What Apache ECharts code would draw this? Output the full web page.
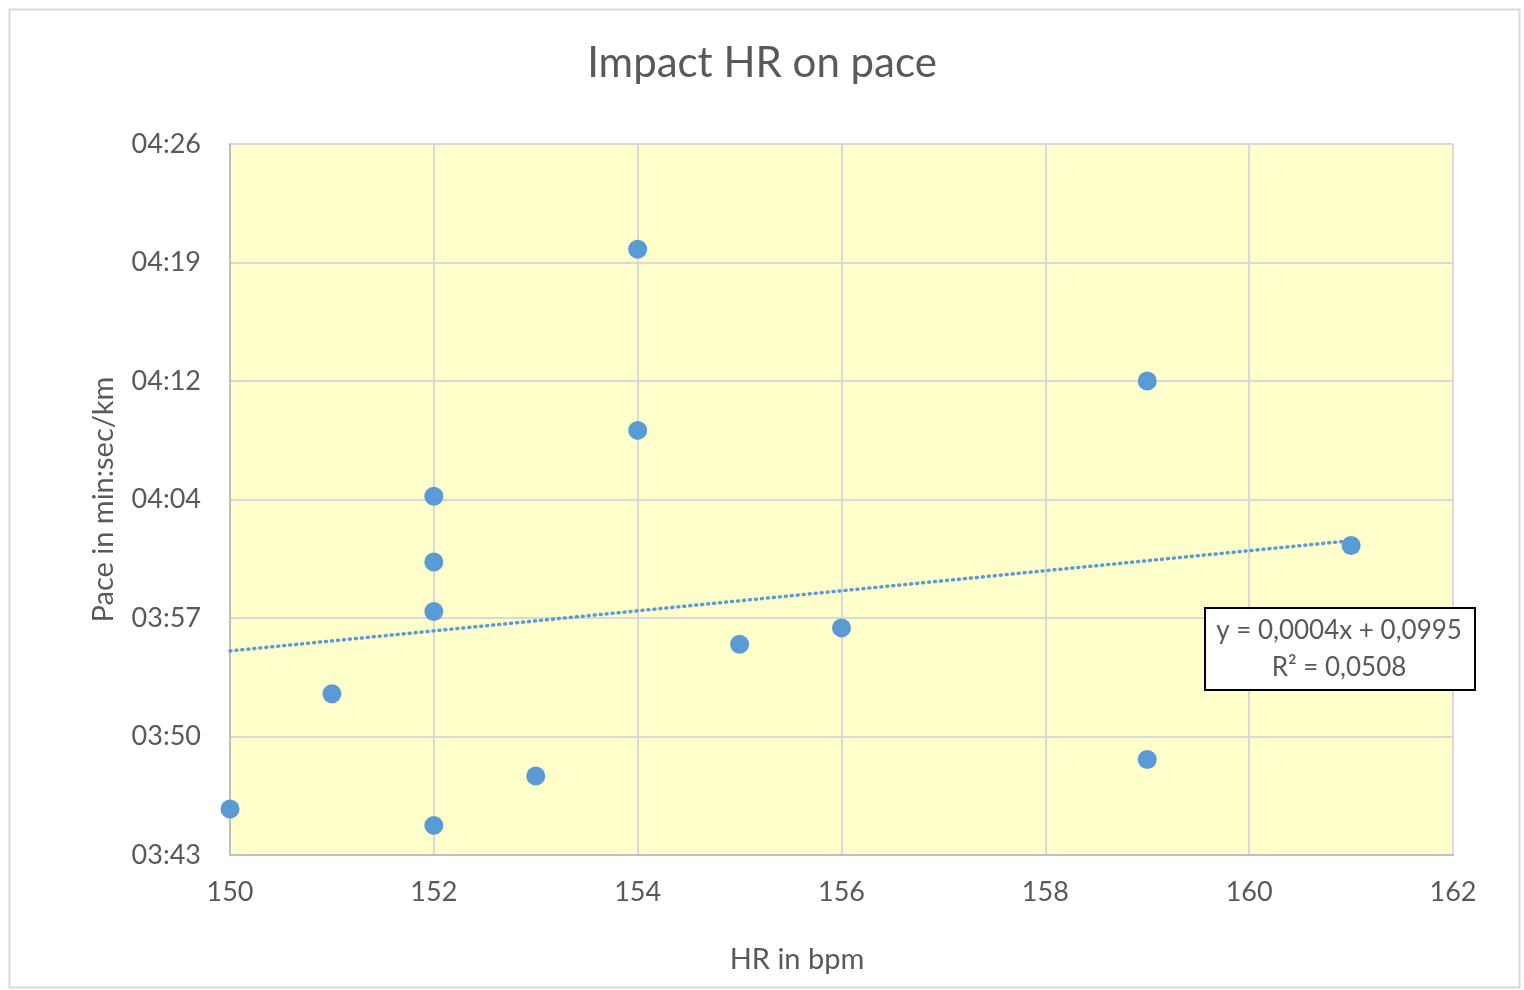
<!DOCTYPE html>
<html>
<head>
<meta charset="utf-8">
<script src="https://cdn.jsdelivr.net/npm/echarts@6/dist/echarts.min.js"></script>
<style>
html,body{margin:0;padding:0;background:#fff;}
#chart{width:1524px;height:990px;}
</style>
</head>
<body>
<div id="chart"></div>
<script>
// Heart rate (bpm)
const hrValues = [150, 151, 152, 152, 152, 152, 153, 154, 154, 155, 156, 159, 159, 161];
// Pace in seconds per km
const paceSeconds = [226, 233, 225, 238, 241, 245, 228, 249, 260, 236, 237, 252, 229, 242];
// Trendline endpoints as drawn (x in bpm, pace in seconds)
const trendX = [150, 161];
const trendY = [235.6, 242.3];
const trendLabel = ['y = 0,0004x + 0,0995', 'R² = 0,0508'];
// Axis ranges (pace axis ticks every 7.2 s: 03:43 ... 04:26)
const xMin = 150, xMax = 162, xStep = 2;
const yMin = 223.2, yMax = 266.4, yStep = 7.2;

const FONT = 'Lato';
const TXT = '#595959';
const BLUE = '#5B9BD5';

function fmtPace(v) {
  const s = Math.floor(v + 1e-6);
  const m = Math.floor(s / 60);
  const r = s % 60;
  return String(m).padStart(2, '0') + ':' + String(r).padStart(2, '0');
}

const chart = echarts.init(document.getElementById('chart'), null, {renderer: 'canvas'});
chart.setOption({
  backgroundColor: '#ffffff',
  animation: false,
  title: {
    text: 'Impact HR on pace',
    left: 'center',
    top: 37,
    textStyle: {fontFamily: FONT, fontSize: 42, fontWeight: 'normal', color: TXT}
  },
  grid: {
    left: 230, right: 71, top: 144, bottom: 135,
    show: true, backgroundColor: '#FFFFCC', borderWidth: 0
  },
  xAxis: {
    type: 'value', min: xMin, max: xMax, interval: xStep,
    name: 'HR in bpm', nameLocation: 'middle', nameGap: 90,
    nameTextStyle: {fontFamily: FONT, fontSize: 29, color: TXT, padding: [0, 89, 0, 0]},
    axisLine: {show: true, lineStyle: {color: '#BFBFBF', width: 2}},
    axisTick: {show: false},
    axisLabel: {fontFamily: FONT, fontSize: 27, color: TXT, margin: 24},
    splitLine: {show: true, lineStyle: {color: '#D9D9D9', width: 2}}
  },
  yAxis: {
    type: 'value', min: yMin, max: yMax, interval: yStep,
    name: 'Pace in min:sec/km', nameLocation: 'middle', nameGap: 112, nameRotate: 90,
    nameTextStyle: {fontFamily: FONT, fontSize: 29, color: TXT},
    axisLine: {show: true, lineStyle: {color: '#BFBFBF', width: 2}},
    axisTick: {show: false},
    axisLabel: {fontFamily: FONT, fontSize: 27, color: TXT, margin: 29, formatter: fmtPace},
    splitLine: {show: true, lineStyle: {color: '#D9D9D9', width: 2}}
  },
  series: [
    {
      type: 'line',
      data: trendX.map((x, i) => [x, trendY[i]]),
      symbol: 'none',
      lineStyle: {color: BLUE, width: 3.5, type: [1, 5], cap: 'round'},
      z: 2,
      silent: true
    },
    {
      type: 'scatter',
      data: hrValues.map((x, i) => [x, paceSeconds[i]]),
      symbolSize: 19,
      itemStyle: {color: BLUE, opacity: 1},
      z: 3
    }
  ],
  graphic: [
    {
      type: 'rect', left: 7, top: 7, z: -1,
      shape: {width: 1510, height: 978},
      style: {fill: 'none', stroke: '#D9D9D9', lineWidth: 2}
    },
    {
      type: 'rect', left: 1204, top: 607, z: 100, zlevel: 1,
      shape: {width: 270, height: 82},
      style: {fill: '#ffffff', stroke: '#000000', lineWidth: 2}
    },
    {
      type: 'text', x: 1339, y: 631, z: 101, zlevel: 1,
      style: {text: trendLabel[0], fontFamily: FONT, fontSize: 26, fill: TXT, align: 'center', verticalAlign: 'middle'}
    },
    {
      type: 'text', x: 1339, y: 668, z: 101, zlevel: 1,
      style: {text: trendLabel[1], fontFamily: FONT, fontSize: 26, fill: TXT, align: 'center', verticalAlign: 'middle'}
    }
  ]
});
</script>
</body>
</html>
